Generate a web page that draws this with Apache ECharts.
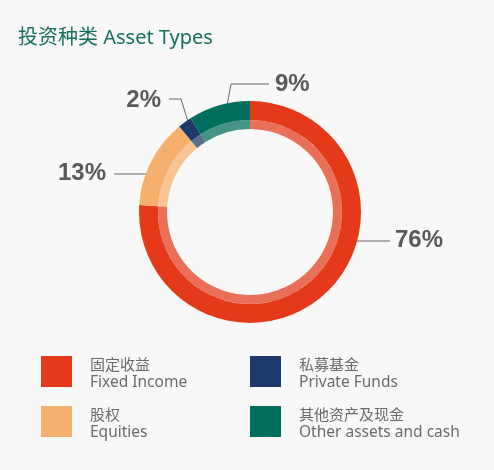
<!DOCTYPE html>
<html><head><meta charset="utf-8">
<script src="https://cdn.jsdelivr.net/npm/echarts@6/dist/echarts.min.js"></script>
<style>html,body{margin:0;padding:0;background:#f8f8f8}#c{width:494px;height:470px}</style>
</head><body><div id="c"></div>
<script>
const categories = ['Fixed Income', 'Equities', 'Private Funds', 'Other assets and cash'];
const categoriesCn = ['固定收益', '股权', '私募基金', '其他资产及现金'];
const values = [76, 13, 2, 9];
const colors = ['#e43a1a', '#f6b06d', '#1c3a6b', '#006e5c'];

// label text anchors and leader-line points (annotation layout only)
const labelLayouts = [
  {x: 395, y: 240, align: 'left',  pts: [[352, 241], [371, 241], [390, 241]]},
  {x: 106, y: 173, align: 'right', pts: [[153, 174], [134, 174], [114, 174]]},
  {x: 161, y: 100, align: 'right', pts: [[189, 125], [181, 99], [169, 99]]},
  {x: 275, y: 84,  align: 'left',  pts: [[226, 111], [231, 84], [269, 84]]}
];

const cnMap = {};
categories.forEach((c, i) => cnMap[c] = categoriesCn[i]);
const pieData = categories.map((c, i) => ({name: c, value: values[i], itemStyle: {color: colors[i]}}));

const chart = echarts.init(document.getElementById('c'));
const legendCommon = {
  orient: 'vertical',
  icon: 'rect',
  itemWidth: 31,
  itemHeight: 31,
  itemGap: 15,
  padding: 0,
  selectedMode: false,
  formatter: n => '{cn|' + cnMap[n] + '}\n{en|' + n + '}',
  textStyle: {
    padding: [4, 0, 0, 13],
    rich: {
      cn: {fontSize: 15, lineHeight: 19, color: '#6a6a6a', fontFamily: 'Noto Sans CJK SC'},
      en: {fontSize: 15.5, lineHeight: 19, color: '#6a6a6a', fontFamily: 'Noto Sans'}
    }
  }
};
chart.setOption({
  backgroundColor: '#f8f8f8',
  animation: false,
  title: {
    text: '投资种类 Asset Types',
    left: 18, top: 28, padding: 0,
    textStyle: {color: '#17705e', fontSize: 20, fontWeight: 'normal', fontFamily: "'Noto Sans', 'Noto Sans CJK SC'"}
  },
  legend: [
    Object.assign({}, legendCommon, {left: 41, top: 356, data: [categories[0], categories[1]]}),
    Object.assign({}, legendCommon, {left: 250, top: 356, data: [categories[2], categories[3]]})
  ],
  series: [
    {
      type: 'pie',
      center: [250, 212],
      radius: [92, 111],
      startAngle: 90,
      clockwise: true,
      silent: true,
      data: pieData,
      label: {
        show: true,
        formatter: p => p.value + '%',
        fontSize: 24,
        fontWeight: 'bold',
        color: '#5a5a5a',
        fontFamily: 'Liberation Sans'
      },
      labelLine: {show: true, lineStyle: {color: '#666', width: 1}},
      labelLayout: p => {
        const l = labelLayouts[p.dataIndex];
        return {x: l.x, y: l.y, align: l.align, verticalAlign: 'middle', labelLinePoints: l.pts};
      }
    },
    {
      type: 'pie',
      center: [250, 212],
      radius: [83, 92],
      startAngle: 90,
      clockwise: true,
      silent: true,
      data: pieData.map(d => ({name: d.name, value: d.value, itemStyle: {color: d.itemStyle.color, opacity: 0.72}})),
      label: {show: false},
      labelLine: {show: false}
    }
  ]
});
</script></body></html>
